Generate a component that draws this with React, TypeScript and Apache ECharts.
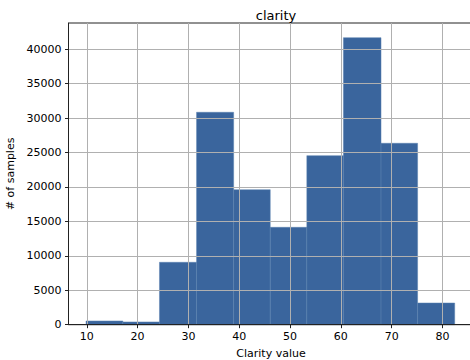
import React, { useEffect, useRef } from "react";
import * as echarts from "echarts";

const binEdges = [9.85, 17.1, 24.3, 31.6, 38.9, 46.1, 53.3, 60.5, 67.9, 75.1, 82.4];
const counts = [540, 400, 9060, 30840, 19600, 14140, 24540, 41670, 26340, 3150];
const xTicks = [10, 20, 30, 40, 50, 60, 70, 80];
const yTicks = [0, 5000, 10000, 15000, 20000, 25000, 30000, 35000, 40000];

const FONT = "DejaVu Sans";

export default function App() {
  const ref = useRef<HTMLDivElement>(null);
  useEffect(() => {
    if (!ref.current) return;
    const chart = echarts.init(ref.current, null, { renderer: "svg" });
    const data = counts.map((c, i) => [binEdges[i], binEdges[i + 1], c]);
    chart.setOption({
      animation: false,
      backgroundColor: "#ffffff",
      title: {
        text: "clarity",
        left: 271,
        textAlign: "center",
        top: 4,
        textStyle: { fontFamily: FONT, fontSize: 13, fontWeight: "normal", color: "#000" },
      },
      grid: {
        left: 68.5,
        top: 23,
        width: 405,
        height: 301.7,
        outerBoundsMode: "none",
        containLabel: false,
        show: true,
        borderColor: "#222",
        borderWidth: 1,
        backgroundColor: "transparent",
      },
      xAxis: {
        type: "value",
        min: 6.4,
        max: 86.1,
        z: 5,
        name: "Clarity value",
        nameLocation: "middle",
        nameGap: 23,
        nameTextStyle: { fontFamily: FONT, fontSize: 11, color: "#000" },
        axisLine: { show: true, lineStyle: { color: "#222", width: 1 } },
        axisTick: { show: true, length: 3.5, customValues: xTicks, lineStyle: { color: "#222" } },
        axisLabel: {
          customValues: xTicks,
          formatter: (v: number) => String(v),
          fontFamily: FONT,
          fontSize: 11,
          color: "#000",
          margin: 6,
        },
        splitLine: { show: true, lineStyle: { color: "#b0b0b0", width: 1 } },
      },
      yAxis: {
        type: "value",
        min: 0,
        max: 43800,
        z: 5,
        name: "# of samples",
        nameLocation: "middle",
        nameGap: 46,
        nameTextStyle: { fontFamily: FONT, fontSize: 11, color: "#000" },
        axisLine: { show: true, lineStyle: { color: "#222", width: 1 } },
        axisTick: { show: true, length: 3.5, customValues: yTicks, lineStyle: { color: "#222" } },
        axisLabel: {
          customValues: yTicks,
          formatter: (v: number) => String(v),
          fontFamily: FONT,
          fontSize: 11,
          color: "#000",
          margin: 7,
        },
        splitLine: { show: true, lineStyle: { color: "#b0b0b0", width: 1 } },
      },
      series: [
        {
          type: "custom",
          z: 1,
          data,
          encode: { x: [0, 1], y: 2 },
          renderItem: (params: any, api: any) => {
            const p0 = api.coord([api.value(0), 0]);
            const p1 = api.coord([api.value(1), api.value(2)]);
            return {
              type: "rect",
              shape: { x: p0[0], y: p1[1], width: p1[0] - p0[0], height: p0[1] - p1[1] },
              style: { fill: "#3a659d", stroke: "#5a80b0", lineWidth: 0.5 },
            };
          },
        },
      ],
    });
    return () => chart.dispose();
  }, []);
  return (
    <div
      ref={ref}
      style={{ position: "fixed", left: 0, top: 0, width: 470, height: 360, background: "#fff" }}
    />
  );
}
